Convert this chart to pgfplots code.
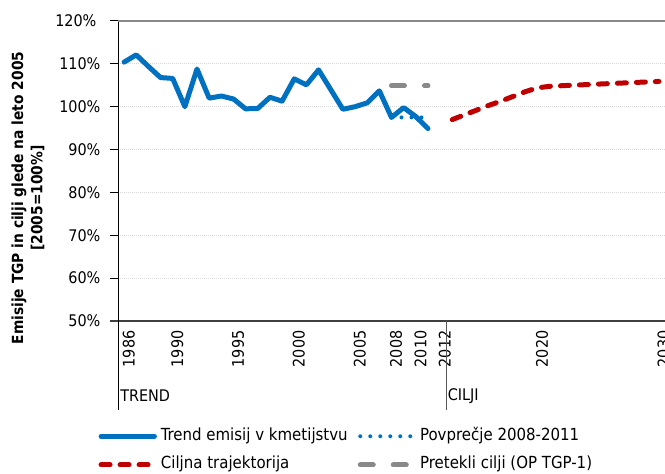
\documentclass[border=0pt]{standalone}
\usepackage{fontspec}
\setmainfont{DejaVu Sans Condensed}
\usepackage{pgfplots}
\pgfplotsset{compat=1.18}
\definecolor{cblue}{HTML}{0070C0}
\definecolor{cred}{HTML}{C00000}
\definecolor{cgray}{HTML}{898989}
\definecolor{cgrid}{HTML}{D9D9D9}
\definecolor{caxis}{HTML}{404040}
\definecolor{csep}{HTML}{595959}
\begin{document}
\fontsize{12}{14.4}\selectfont
\begin{tikzpicture}
\begin{axis}[
  scale only axis, width=410.25pt, height=225pt,
  at={(88.5pt,114.75pt)}, anchor=south west,
  xmin=1985.5, xmax=2030.5, ymin=50, ymax=120,
  axis x line*=bottom, axis y line*=left,
  x axis line style={caxis, line width=1.1pt, shorten <=-6pt},
  y axis line style={black, line width=0.75pt},
  xtick={1986,1990,1995,2000,2005,2008,2010,2012,2020,2030},
  xticklabels={1986,1990,1995,2000,2005,2008,2010,2012,2020,2030},
  xtick style={draw=none},
  xticklabel style={xshift=3.5pt, yshift=3pt, rotate=90, anchor=east},
  ytick={50,60,70,80,90,100,110},
  yticklabels={50\%,60\%,70\%,80\%,90\%,100\%,110\%},
  yticklabel style={xshift=-3pt},
  extra y ticks={120}, extra y tick labels={120\%},
  extra y tick style={major grid style={cgray, line width=1.5pt, solid}, yticklabel style={xshift=-3pt}},
  tick align=outside, ytick style={black, line width=0.75pt}, major tick length=6pt,
  ymajorgrids, major grid style={cgrid, line width=0.75pt, dash pattern=on 0.75pt off 0.75pt},
  clip=false,
  ylabel={Emisije TGP in cilji glede na leto 2005\\{[2005=100\%]}},
  ylabel style={font=\fontsize{11.5}{14.5}\selectfont\bfseries, align=center, at={(axis description cs:-0.1645,0.41)}, anchor=center},
  legend columns=2,
  legend cell align=left,
  legend style={draw=none, fill=none, at={(axis description cs:-0.036,-0.432)}, anchor=west,
    inner sep=0pt, row sep=9.5pt, font=\fontsize{12.5}{15}\selectfont,
    nodes={inner sep=0pt, text height=9pt, text depth=3pt},
    /tikz/every odd column/.append style={column sep=3pt},
    /tikz/every even column/.append style={column sep=7.5pt}},
  legend image code/.code={\draw[#1] (0pt,0pt) -- (40pt,0pt);},
]
\addplot[cblue, line width=3pt, line cap=round, dash pattern=on 0pt off 7.5pt, forget plot]
  coordinates {(2008,97.5) (2011,97.5)};
\addplot[cblue, line width=3.75pt, line join=round, line cap=round] coordinates {
 (1986,110.4) (1987,112.1) (1988,109.4) (1989,106.8) (1990,106.6) (1991,100.0)
 (1992,108.8) (1993,102.0) (1994,102.5) (1995,101.8) (1996,99.5) (1997,99.6)
 (1998,102.2) (1999,101.3) (2000,106.5) (2001,105.1) (2002,108.6) (2003,104.0)
 (2004,99.4) (2005,100.0) (2006,100.9) (2007,103.7) (2008,97.5) (2009,99.8)
 (2010,97.7) (2011,94.9)};
\addlegendentry{Trend emisij v kmetijstvu}
\addlegendimage{cblue, line width=3pt, line cap=round, dash pattern=on 0pt off 7.5pt}
\addlegendentry{Povprečje 2008-2011}
\addplot[cred, line width=3.75pt, line cap=round, dash pattern=on 6.75pt off 7.5pt] coordinates {
 (2013,97.0) (2014,98.1) (2015,99.2) (2016,100.3) (2017,101.3) (2018,102.4)
 (2019,103.5) (2020,104.4) (2021,104.75) (2022,104.9) (2026,105.4) (2030,105.9)};
\addlegendentry{Ciljna trajektorija}
\addplot[cgray, line width=3.75pt, line cap=round, dash pattern=on 9.75pt off 15pt] coordinates {
 (2008,104.9) (2011,104.9)};
\addlegendentry{Pretekli cilji (OP TGP-1)}
\draw[black, line width=0.75pt] (rel axis cs:0,0) -- ++(0pt,-66.75pt);
\draw[csep, line width=0.75pt] (axis cs:2012.5,50) -- ++(0pt,-66.75pt);
\draw[cgrid, line width=0.5pt] (rel axis cs:1,0) -- (rel axis cs:1,1);
\node[anchor=west, inner sep=0pt, xshift=1.5pt, yshift=-56.25pt] at (rel axis cs:0,0) {TREND};
\node[anchor=west, inner sep=0pt, xshift=1pt, yshift=-56.25pt] at (axis cs:2012.5,50) {CILJI};
\end{axis}
\pgfresetboundingbox
\path[use as bounding box] (0pt,0pt) rectangle (498.75pt,355.5pt);
\end{tikzpicture}
\end{document}
